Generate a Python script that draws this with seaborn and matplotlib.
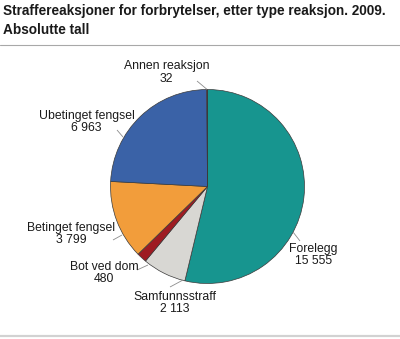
import matplotlib
matplotlib.use("Agg")
import matplotlib.pyplot as plt
from matplotlib.lines import Line2D
import numpy as np
import seaborn as sns

# Straffereaksjoner 2009, absolutte tall
categories = ["Forelegg", "Samfunnsstraff", "Bot ved dom",
              "Betinget fengsel", "Ubetinget fengsel", "Annen reaksjon"]
values = [15555, 2113, 480, 3799, 6963, 32]
value_labels = ["15 555", "2 113", "480", "3 799", "6 963", "32"]

colors = ["#17958f", "#d8d7d3", "#9e1b22", "#f29d3b", "#3a62a7", "#9e1b22"]

sns.set_style("white")
plt.rcParams["font.family"] = ["Liberation Sans", "DejaVu Sans"]

W, H = 400, 339
fig = plt.figure(figsize=(W / 100, H / 100), dpi=100)

# pie centre and radius in pixels (measured from the top-left corner)
cx, cy, R = 207.5, 186.5, 97.0
ax = fig.add_axes([0, 0, 1, 1])
wedges, _ = ax.pie(values, colors=colors, startangle=90, counterclock=False,
                   radius=1.0, center=(0, 0),
                   wedgeprops=dict(edgecolor="#3a3a3a", linewidth=0.5))
ax.set_xlim(-cx / R, (W - cx) / R)
ax.set_ylim(-(H - cy) / R, cy / R)
ax.set_aspect("equal")
ax.axis("off")


def px(x, y):
    """Pixel position (from top-left) to pie data coordinates."""
    return (x - cx) / R, (cy - y) / R


# label placement: text centre and leader line (pixel coordinates)
label_xy = [(313.5, 255), (175, 303), (104, 273), (71, 234), (86.5, 122), (166.5, 72.5)]
leader_in = [(293, 232), (183, 280), (148, 265), (122, 235), (123, 137), None]
leader_out = [(300, 241), (170, 287), (137, 270), (113, 240), (117, 130), (197, 81)]

for i, (name, vl) in enumerate(zip(categories, value_labels)):
    if leader_in[i] is None:
        w = wedges[i]
        a = np.deg2rad((w.theta1 + w.theta2) / 2)
        p0 = (np.cos(a), np.sin(a))
    else:
        p0 = px(*leader_in[i])
    p1 = px(*leader_out[i])
    ax.plot([p0[0], p1[0]], [p0[1], p1[1]], color="#8c8c8c", lw=0.6,
            solid_capstyle="butt")
    tx, ty = px(*label_xy[i])
    ax.text(tx, ty, f"{name}\n{vl}", ha="center", va="center",
            fontsize=8.8, color="#1a1a1a", linespacing=1.05)

# title
fig.text(3 / W, 1 - 15.5 / H,
         "Straffereaksjoner for forbrytelser, etter type reaksjon. 2009.",
         ha="left", va="baseline", fontsize=9.8, fontweight="bold", color="#1a1a1a")
fig.text(3 / W, 1 - 33.5 / H, "Absolutte tall",
         ha="left", va="baseline", fontsize=9.8, fontweight="bold", color="#1a1a1a")

# horizontal rules
fig.add_artist(Line2D([0, 1], [1 - 45 / H, 1 - 45 / H], transform=fig.transFigure,
                      color="#a8a8a8", lw=0.8))
fig.add_artist(Line2D([0, 1], [1 - 335.5 / H, 1 - 335.5 / H], transform=fig.transFigure,
                      color="#d2d2d2", lw=1.6))

fig.savefig("out.png", dpi=100)
